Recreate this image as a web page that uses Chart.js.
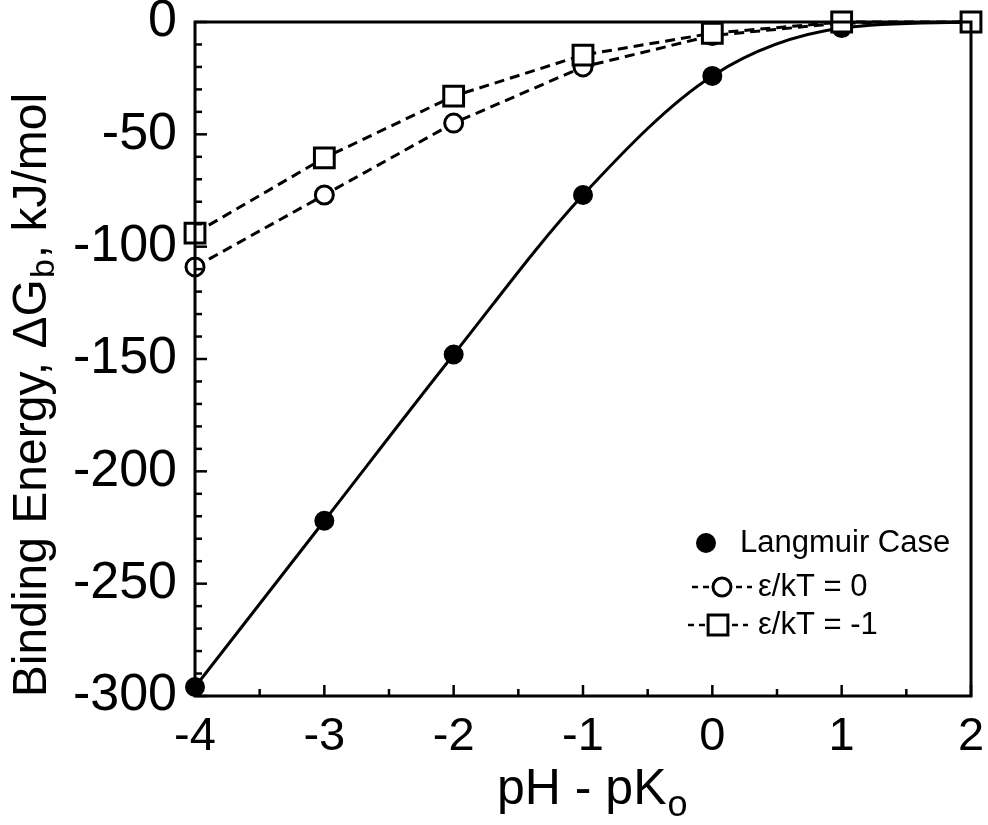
<!DOCTYPE html>
<html>
<head>
<meta charset="utf-8">
<script src="https://cdn.jsdelivr.net/npm/chart.js@4.4.1/dist/chart.umd.min.js"></script>
<style>
  html, body { margin: 0; padding: 0; background: #fff; }
  #wrap { width: 988px; height: 825px; }
</style>
</head>
<body>
<div id="wrap"><canvas id="myChart" width="988" height="825"></canvas></div>
<script>
const xValues = [-4, -3, -2, -1, 0, 1, 2]
const langmuirValues = [-296, -222, -148, -77, -24, -2.7, 0]
const eps0Values = [-109, -77, -45, -20, -6, -0.5, 0]
const epsM1Values = [-94, -60.5, -33, -14.7, -5, 0, 0]

const seriesLabels = ['Langmuir Case', 'ε/kT = 0', 'ε/kT = -1']
const xTitle = ['pH - pK', 'o']
const yTitle = ['Binding Energy, ΔG', 'b', ', kJ/mol']

const fontFamily = '"Liberation Sans", Arial, Helvetica, sans-serif'
const ink = '#000'

const ctx = document.getElementById('myChart')

const toPoints = (ys) => xValues.map((x, i) => ({ x: x, y: ys[i] }))

// ticks hacia adentro + marco + titulos + leyenda
const framePlugin = {
    id: 'framePlugin',
    afterDraw(chart) {
        const c = chart.ctx
        const a = chart.chartArea
        const xs = chart.scales.x
        const ys = chart.scales.y
        c.save()
        c.strokeStyle = ink
        c.lineWidth = 3
        c.strokeRect(a.left, a.top, a.right - a.left, a.bottom - a.top)

        c.lineWidth = 2.5
        for (let v = -4; v <= 2.001; v += 0.5) {
            const px = xs.getPixelForValue(v)
            const len = Number.isInteger(v) ? 11 : 7
            c.beginPath()
            c.moveTo(px, a.bottom)
            c.lineTo(px, a.bottom - len)
            c.stroke()
        }
        for (let v = -300; v <= 0; v += 10) {
            const py = ys.getPixelForValue(v)
            const len = v % 50 === 0 ? 12 : 7
            c.beginPath()
            c.moveTo(a.left, py)
            c.lineTo(a.left + len, py)
            c.stroke()
        }

        // titulos
        c.fillStyle = ink
        c.textBaseline = 'alphabetic'
        c.font = '50px ' + fontFamily
        let w1 = c.measureText(xTitle[0]).width
        let sx = 497
        c.textAlign = 'left'
        c.fillText(xTitle[0], sx, 804)
        c.font = '36px ' + fontFamily
        c.fillText(xTitle[1], sx + w1 + 1, 816)

        c.translate(46, 396)
        c.rotate(-Math.PI / 2)
        c.font = '48px ' + fontFamily
        const t0 = c.measureText(yTitle[0]).width
        const t2 = c.measureText(yTitle[2]).width
        c.font = '34px ' + fontFamily
        const t1 = c.measureText(yTitle[1]).width
        let ty = -(t0 + t1 + t2) / 2
        c.font = '48px ' + fontFamily
        c.fillText(yTitle[0], ty, 0)
        c.font = '34px ' + fontFamily
        c.fillText(yTitle[1], ty + t0 + 1, 8)
        c.font = '48px ' + fontFamily
        c.fillText(yTitle[2], ty + t0 + t1 + 2, 0)
        c.restore()

        // leyenda
        c.save()
        c.font = '31px ' + fontFamily
        c.textBaseline = 'middle'
        c.textAlign = 'left'
        c.fillStyle = ink
        const rows = [
            { ds: 0, y: 543, mx: 706, tx: 740 },
            { ds: 1, y: 587, mx: 722, tx: 758 },
            { ds: 2, y: 625, mx: 718, tx: 758 }
        ]
        rows.forEach(r => {
            const d = chart.data.datasets[r.ds]
            if (d.showLegendLine) {
                c.strokeStyle = ink
                c.lineWidth = 2.5
                c.setLineDash([6, 5])
                c.beginPath()
                c.moveTo(r.mx - 30, r.y)
                c.lineTo(r.mx + 30, r.y)
                c.stroke()
                c.setLineDash([])
            }
            c.fillStyle = d.pointBackgroundColor
            c.strokeStyle = ink
            c.lineWidth = d.pointBorderWidth
            c.beginPath()
            if (d.pointStyle === 'rect') {
                const s = d.pointRadius * Math.SQRT1_2
                c.rect(r.mx - s, r.y - s, 2 * s, 2 * s)
            } else {
                c.arc(r.mx, r.y, d.pointRadius, 0, Math.PI * 2)
            }
            c.fill()
            c.stroke()
            c.fillStyle = ink
            c.fillText(d.label, r.tx, r.y)
        })
        c.restore()
    }
}

const myChart = new Chart(ctx, {
    type: 'line',
    data: {
        datasets: [{
            label: seriesLabels[0],
            data: toPoints(langmuirValues),
            borderColor: ink,
            borderWidth: 3,
            pointStyle: 'circle',
            pointRadius: 9,
            pointBorderWidth: 2,
            pointBackgroundColor: ink,
            pointBorderColor: ink,
            cubicInterpolationMode: 'monotone',
            clip: false,
            order: 3,
            showLegendLine: false
        }, {
            label: seriesLabels[1],
            data: toPoints(eps0Values),
            borderColor: ink,
            borderWidth: 3,
            borderDash: [10, 6],
            pointStyle: 'circle',
            pointRadius: 9,
            pointBorderWidth: 3,
            pointBackgroundColor: '#fff',
            pointBorderColor: ink,
            tension: 0,
            clip: false,
            order: 2,
            showLegendLine: true
        }, {
            label: seriesLabels[2],
            data: toPoints(epsM1Values),
            borderColor: ink,
            borderWidth: 3,
            borderDash: [10, 6],
            pointStyle: 'rect',
            pointRadius: 14,
            pointBorderWidth: 3,
            pointBackgroundColor: '#fff',
            pointBorderColor: ink,
            tension: 0,
            clip: false,
            order: 1,
            showLegendLine: true
        }]
    },
    options: {
        responsive: false,
        animation: false,
        layout: { padding: { top: 22, right: 11, left: 0, bottom: 0 } },
        plugins: {
            legend: { display: false },
            tooltip: { enabled: false }
        },
        scales: {
            x: {
                type: 'linear',
                min: -4,
                max: 2,
                grid: { display: false, drawTicks: false },
                border: { display: false },
                ticks: {
                    stepSize: 1,
                    padding: 13,
                    color: ink,
                    font: { family: fontFamily, size: 47 }
                },
                afterFit(scale) {
                    scale.height = 129
                    scale.paddingLeft = 0
                    scale.paddingRight = 0
                }
            },
            y: {
                type: 'linear',
                min: -300,
                max: 0,
                grid: { display: false, drawTicks: false },
                border: { display: false },
                ticks: {
                    stepSize: 50,
                    padding: 18,
                    color: ink,
                    font: { family: fontFamily, size: 52 }
                },
                afterFit(scale) {
                    scale.width = 195
                    scale.paddingTop = 0
                    scale.paddingBottom = 0
                }
            }
        }
    },
    plugins: [framePlugin]
});
</script>
</body>
</html>
